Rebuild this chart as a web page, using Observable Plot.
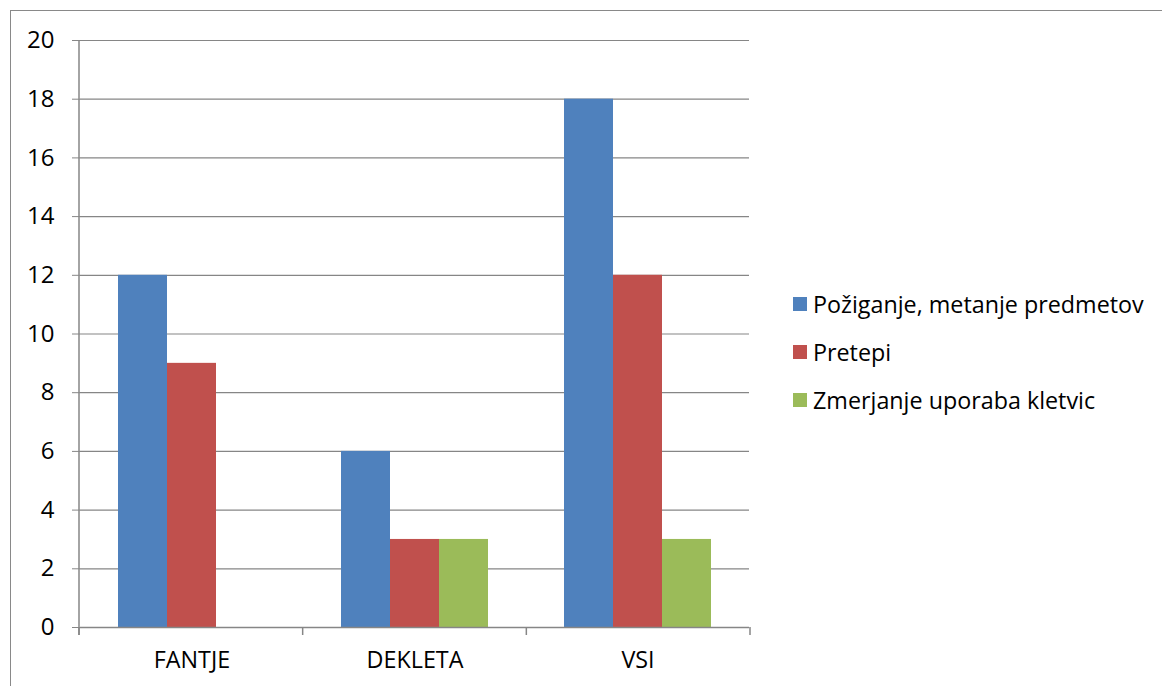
<!DOCTYPE html>
<html>
<head>
<meta charset="utf-8">
<script src="https://cdn.jsdelivr.net/npm/d3@7"></script>
<script src="https://cdn.jsdelivr.net/npm/@observablehq/plot@0.6"></script>
<style>
  html, body { margin: 0; padding: 0; background: #fff; overflow: hidden; width: 1162px; height: 686px; }
  #wrap { position: relative; width: 1162px; height: 686px; font-family: "Open Sans", sans-serif; }
  #border { position: absolute; left: 10px; top: 10px; width: 1200px; height: 720px; border: 1.5px solid #898989; box-sizing: border-box; }
  #chart { position: absolute; left: 0; top: 0; }
  #legend { position: absolute; left: 793px; top: 289px; font-size: 23.3px; color: #000; }
  .item { display: flex; align-items: center; height: 30px; margin-bottom: 18px; white-space: nowrap; }
  .sw { width: 14px; height: 14px; margin-right: 6px; flex: none; }
</style>
</head>
<body>
<div id="wrap">
  <div id="border"></div>
  <div id="chart"></div>
  <div id="legend"></div>
</div>
<script>
const categories = ["FANTJE", "DEKLETA", "VSI"];
const series = ["Požiganje, metanje predmetov", "Pretepi", "Zmerjanje uporaba kletvic"];
const pozigValues = [12, 6, 18];
const pretepiValues = [9, 3, 12];
const zmerjanjeValues = [0, 3, 3];
const colors = ["#4F81BD", "#C0504D", "#9BBB59"];
const yTicks = [0, 2, 4, 6, 8, 10, 12, 14, 16, 18, 20];

const seriesValues = [pozigValues, pretepiValues, zmerjanjeValues];
const data = categories.flatMap((c, i) =>
  series.map((s, j) => ({category: c, series: s, value: seriesValues[j][i]}))
);

const W = 760, H = 686;
const M = {left: 79, right: 10, top: 40, bottom: 59};
const gray = "#868686";

const plot = Plot.plot({
  width: W,
  height: H,
  marginLeft: M.left,
  marginRight: M.right,
  marginTop: M.top,
  marginBottom: M.bottom,
  style: {fontFamily: "Open Sans, sans-serif", fontSize: "23px", color: "#000", background: "transparent", overflow: "visible"},
  fx: {domain: categories, paddingInner: 0, paddingOuter: 0, label: null},
  x: {domain: series, paddingInner: 0, paddingOuter: 0.737, axis: null},
  y: {domain: [0, 20], label: null},
  color: {domain: series, range: colors},
  marks: [
    Plot.ruleY(yTicks, {stroke: gray, strokeWidth: 1.2}),
    Plot.barY(data, {fx: "category", x: "series", y: "value", fill: "series"}),
    Plot.ruleY([0], {stroke: gray, strokeWidth: 1.5}),
    Plot.axisY(yTicks, {tickSize: 8, tickPadding: 18, stroke: gray, fill: "#000", fontSize: 24, label: null}),
    Plot.axisFx({anchor: "bottom", tickSize: 0, tickPadding: 24, fill: "#000", fontSize: 23.3, label: null})
  ]
});
document.getElementById("chart").appendChild(plot);

// axis line and category boundary ticks, positioned from the plot's scales
const fxScale = Plot.scale({x: {type: "band", domain: categories, range: [M.left, W - M.right], paddingInner: 0, paddingOuter: 0}});
const yScale = plot.scale("y");
const y0 = yScale.apply(0), yTop = yScale.apply(20);
const bw = fxScale.bandwidth;
const bounds = categories.map(c => fxScale.apply(c)).concat([fxScale.apply(categories[categories.length - 1]) + bw]);
const svg = d3.select(plot);
const g = svg.append("g").attr("stroke", gray).attr("stroke-width", 1.5);
g.append("line").attr("x1", bounds[0]).attr("x2", bounds[0]).attr("y1", yTop).attr("y2", y0 + 8);
bounds.forEach(b => g.append("line").attr("x1", b).attr("x2", b).attr("y1", y0).attr("y2", y0 + 8));

// legend
const legend = d3.select("#legend");
series.forEach((s, i) => {
  const it = legend.append("div").attr("class", "item");
  it.append("div").attr("class", "sw").style("background", colors[i]);
  it.append("span").text(s);
});
</script>
</body>
</html>
